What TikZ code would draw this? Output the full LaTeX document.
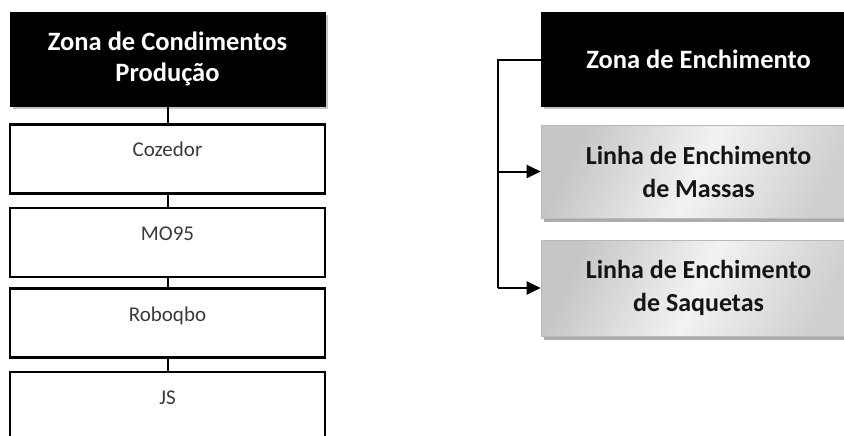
\documentclass[tikz,border=0pt]{standalone}
\usepackage{fontspec}
\setmainfont{Carlito}
\usetikzlibrary{shadows,arrows.meta}
\definecolor{boxtext}{HTML}{3A3A3A}
\definecolor{graytext}{HTML}{141414}
\begin{document}
\begin{tikzpicture}[x=1pt,y=-1pt,
  titlebox/.style={draw=black, fill=black, text=white,
    font=\fontsize{26.5}{31}\selectfont\bfseries, align=center,
    minimum width=315pt, minimum height=94pt, inner sep=0pt,
    drop shadow={shadow xshift=3pt, shadow yshift=-3.5pt, fill=gray!45, opacity=1}},
  itembox/.style={draw=black, line width=2.2pt, fill=white, text=boxtext,
    font=\fontsize{21}{25}\selectfont, minimum width=315pt, minimum height=69pt,
    inner ysep=0pt, text height=32.5pt, text depth=36.5pt},
  graybox/.style={draw=gray!55, line width=0.6pt, text=graytext,
    font=\fontsize{26}{33}\selectfont\bfseries, align=center,
    minimum width=315pt, inner sep=0pt,
    left color=gray!45, right color=gray!38, middle color=gray!10, shading angle=65,
    drop shadow={shadow xshift=3pt, shadow yshift=-3.5pt, fill=gray!65, opacity=1}},
  link/.style={draw=black, line width=2pt},
  arrowlink/.style={draw=black, line width=2pt, -{Triangle[length=14pt,width=13pt]}}
]
\useasboundingbox (0,0) rectangle (844,436);
\clip (0,0) rectangle (844,436);

% left column
\node[titlebox] (t1) at (167.5,59) {Zona de Condimentos\\Produção};
\node[itembox] (b1) at (167.5,159) {Cozedor};
\node[itembox] (b2) at (167.5,242.5) {MO95};
\node[itembox] (b3) at (167.5,323) {Roboqbo};
\node[itembox] (b4) at (167.5,406.5) {JS};
\draw[link] (t1.south) -- (b1.north);
\draw[link] (b1.south) -- (b2.north);
\draw[link] (b2.south) -- (b3.north);
\draw[link] (b3.south) -- (b4.north);

% right column
\node[titlebox] (t2) at (698.5,59) {Zona de Enchimento};
\node[graybox, minimum height=93pt] (g1) at (698.5,171.5) {Linha de Enchimento\\de Massas};
\node[graybox, minimum height=96pt] (g2) at (698.5,288) {Linha de Enchimento\\de Saquetas};
\coordinate (c) at (498,60);
\draw[link] ([yshift=-1pt]t2.west) -- (c) -- (c |- g2.west);
\draw[arrowlink] (c |- g1.west) -- (g1.west);
\draw[arrowlink] (c |- g2.west) -- (g2.west);
\end{tikzpicture}
\end{document}
